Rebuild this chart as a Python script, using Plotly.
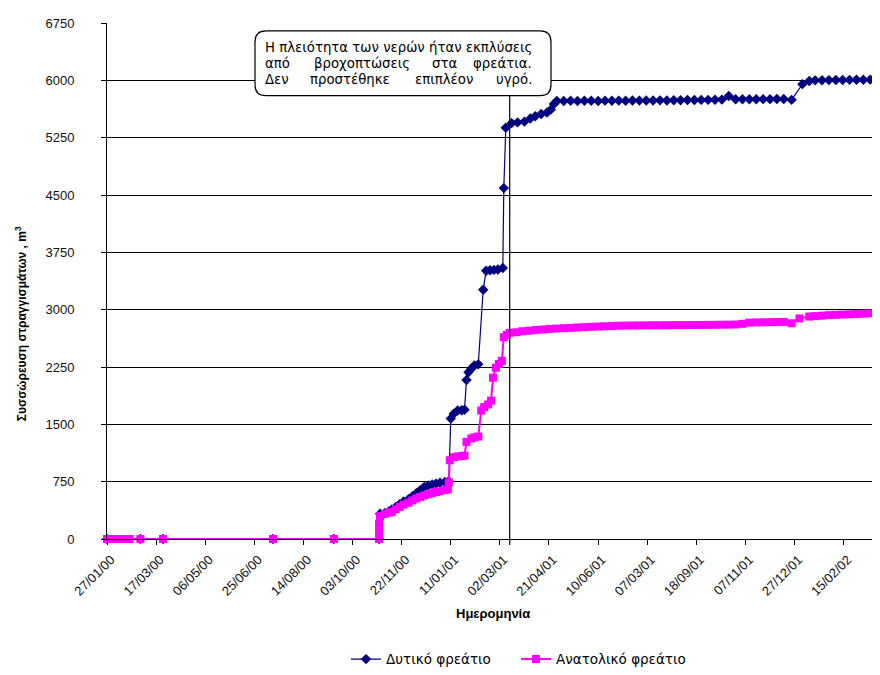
import plotly.graph_objects as go

# ---------------- data ----------------
west_dates = [
    "2000-01-27", "2000-03-01", "2000-03-24", "2000-07-14", "2000-09-14", "2000-10-30",
    "2000-10-31", "2000-11-05", "2000-11-09", "2000-11-12", "2000-11-16", "2000-11-20",
    "2000-11-24", "2000-11-29", "2000-12-03", "2000-12-07", "2000-12-11", "2000-12-15",
    "2000-12-19", "2000-12-23", "2000-12-27", "2000-12-31", "2001-01-05", "2001-01-09",
    "2001-01-11", "2001-01-14", "2001-01-18", "2001-01-22", "2001-01-25", "2001-01-27",
    "2001-01-29", "2001-02-01", "2001-02-04", "2001-02-08", "2001-02-13", "2001-02-16",
    "2001-02-20", "2001-02-24", "2001-02-28", "2001-03-05", "2001-03-06", "2001-03-08",
    "2001-03-14", "2001-03-20", "2001-03-27", "2001-04-02", "2001-04-07", "2001-04-13",
    "2001-04-19", "2001-04-23", "2001-04-26", "2001-04-29", "2001-05-06", "2001-05-13",
    "2001-05-20", "2001-05-27", "2001-06-03", "2001-06-10", "2001-06-17", "2001-06-24",
    "2001-07-01", "2001-07-08", "2001-07-15", "2001-07-22", "2001-07-29", "2001-08-05",
    "2001-08-12", "2001-08-19", "2001-08-26", "2001-09-02", "2001-09-09", "2001-09-16",
    "2001-09-23", "2001-09-30", "2001-10-07", "2001-10-14", "2001-10-21", "2001-10-28",
    "2001-11-04", "2001-11-11", "2001-11-18", "2001-11-25", "2001-12-02", "2001-12-09",
    "2001-12-16", "2001-12-24", "2002-01-04", "2002-01-11", "2002-01-17", "2002-01-24",
    "2002-01-31", "2002-02-07", "2002-02-14", "2002-02-21", "2002-02-28", "2002-03-07",
    "2002-03-14", "2002-03-21",
]
west_values = [
    0, 0, 0, 0, 0, 0,
    330, 340, 360, 385, 420, 455,
    490, 520, 560, 600, 640, 680,
    700, 715, 725, 735, 745, 755,
    1575, 1640, 1680, 1685, 1690, 2080,
    2180, 2230, 2270, 2285, 3260, 3510,
    3515, 3520, 3525, 3545, 4590, 5380,
    5440, 5450, 5460, 5500, 5530, 5560,
    5580, 5620, 5690, 5730, 5730, 5732,
    5730, 5733, 5732, 5730, 5734, 5733,
    5735, 5733, 5736, 5735, 5737, 5736,
    5738, 5737, 5740, 5739, 5742, 5743,
    5744, 5745, 5746, 5748, 5795, 5752,
    5752, 5753, 5753, 5754, 5754, 5755,
    5756, 5745, 5950, 5992, 6000, 6002,
    6003, 6004, 6005, 6006, 6007, 6008,
    6009, 6010,
]

east_dates = [
    "2000-01-27", "2000-02-01", "2000-02-05", "2000-02-10", "2000-02-15", "2000-02-19",
    "2000-03-01", "2000-03-24", "2000-07-14", "2000-09-14", "2000-10-30", "2000-10-30",
    "2000-10-30", "2000-10-31", "2000-11-05", "2000-11-09", "2000-11-12", "2000-11-16",
    "2000-11-20", "2000-11-24", "2000-11-29", "2000-12-03", "2000-12-07", "2000-12-11",
    "2000-12-15", "2000-12-19", "2000-12-23", "2000-12-27", "2000-12-31", "2001-01-05",
    "2001-01-08", "2001-01-09", "2001-01-10", "2001-01-14", "2001-01-18", "2001-01-22",
    "2001-01-25", "2001-01-27", "2001-02-01", "2001-02-04", "2001-02-08", "2001-02-11",
    "2001-02-14", "2001-02-18", "2001-02-21", "2001-02-23", "2001-02-26", "2001-03-01",
    "2001-03-04", "2001-03-06", "2001-03-09", "2001-03-12", "2001-03-19", "2001-03-25",
    "2001-04-01", "2001-04-08", "2001-04-15", "2001-04-22", "2001-04-29", "2001-05-06",
    "2001-05-13", "2001-05-20", "2001-05-27", "2001-06-03", "2001-06-10", "2001-06-17",
    "2001-06-24", "2001-07-01", "2001-07-08", "2001-07-15", "2001-07-22", "2001-07-29",
    "2001-08-05", "2001-08-12", "2001-08-19", "2001-08-26", "2001-09-02", "2001-09-09",
    "2001-09-16", "2001-09-23", "2001-09-30", "2001-10-07", "2001-10-14", "2001-10-21",
    "2001-10-28", "2001-11-04", "2001-11-11", "2001-11-18", "2001-11-25", "2001-12-02",
    "2001-12-09", "2001-12-16", "2001-12-24", "2002-01-01", "2002-01-11", "2002-01-17",
    "2002-01-24", "2002-01-31", "2002-02-07", "2002-02-14", "2002-02-21", "2002-02-28",
    "2002-03-07", "2002-03-14", "2002-03-21",
]
east_values = [
    0, 0, 0, 0, 0, 0,
    0, 0, 0, 0, 0, 100,
    200, 300, 330, 345, 355, 390,
    420, 450, 475, 505, 530, 550,
    570, 585, 600, 615, 625, 640,
    650, 740, 1030, 1070, 1080, 1085,
    1090, 1270, 1315, 1330, 1340, 1680,
    1725, 1760, 1810, 2110, 2240, 2290,
    2330, 2640, 2670, 2697, 2705, 2718,
    2725, 2735, 2740, 2748, 2753, 2758,
    2762, 2767, 2771, 2776, 2779, 2783,
    2786, 2790, 2792, 2793, 2794, 2795,
    2796, 2796, 2797, 2798, 2798, 2799,
    2800, 2800, 2801, 2802, 2803, 2804,
    2806, 2815, 2830, 2833, 2835, 2836,
    2838, 2840, 2822, 2885, 2910, 2915,
    2922, 2928, 2932, 2936, 2940, 2944,
    2948, 2952, 2956,
]

tick_dates = [
    "2000-01-27", "2000-03-17", "2000-05-06", "2000-06-25", "2000-08-14", "2000-10-03",
    "2000-11-22", "2001-01-11", "2001-03-02", "2001-04-21", "2001-06-10", "2001-07-30",
    "2001-09-18", "2001-11-07", "2001-12-27", "2002-02-15",
]
tick_labels = [
    "27/01/00", "17/03/00", "06/05/00", "25/06/00", "14/08/00", "03/10/00",
    "22/11/00", "11/01/01", "02/03/01", "21/04/01", "10/06/01", "07/03/01",
    "18/09/01", "07/11/01", "27/12/01", "15/02/02",
]
y_ticks = [0, 750, 1500, 2250, 3000, 3750, 4500, 5250, 6000, 6750]

x_range = ["2000-01-27", "2002-03-24"]
marker_line_date = "2001-03-12"

note_line1 = "Η πλειότητα των νερών ήταν εκπλύσεις"
note_line2 = ["από", "βροχοπτώσεις", "στα", "φρεάτια."]
note_line3 = ["Δεν", "προστέθηκε", "επιπλέον", "υγρό."]

# ---------------- layout helpers (screen px -> paper) ----------------
PL, PR, PT, PB = 107, 880, 23, 542   # plot area on screen
OFF = 8                               # page body margin


def px(x):
    return (x - PL) / (PR - PL)


def py(y):
    return (PB - y) / (PB - PT)


NUM_FONT = "Liberation Sans, Arial, sans-serif"
TXT_FONT = "DejaVu Sans, Verdana, sans-serif"

fig = go.Figure()
fig.add_trace(go.Scatter(
    x=west_dates, y=west_values, name="Δυτικό φρεάτιο",
    mode="lines+markers", cliponaxis=False,
    line=dict(color="#000080", width=1.2),
    marker=dict(symbol="diamond", size=8, color="#000080"),
))
fig.add_trace(go.Scatter(
    x=east_dates, y=east_values, name="Ανατολικό φρεάτιο",
    mode="lines+markers", cliponaxis=False,
    line=dict(color="#FF00FF", width=2),
    marker=dict(symbol="square", size=8, color="#FF00FF"),
))

# rounded annotation box
bx0, bx1, by0, by1 = px(255), px(551), py(96), py(31)
rx, ry = 11 / (PR - PL), 11 / (PB - PT)
path = (f"M {bx0+rx},{by0} L {bx1-rx},{by0} Q {bx1},{by0} {bx1},{by0+ry} "
        f"L {bx1},{by1-ry} Q {bx1},{by1} {bx1-rx},{by1} L {bx0+rx},{by1} "
        f"Q {bx0},{by1} {bx0},{by1-ry} L {bx0},{by0+ry} Q {bx0},{by0} {bx0+rx},{by0} Z")
fig.add_shape(type="path", path=path, xref="paper", yref="paper",
              fillcolor="white", line=dict(color="black", width=1.2), layer="above")
fig.add_shape(type="line", xref="x", yref="paper",
              x0=marker_line_date, x1=marker_line_date, y0=py(548), y1=by0,
              line=dict(color="black", width=1.2), layer="above")

note_font = dict(family=TXT_FONT, size=13.3, color="black")


def note(text, x, y, anchor):
    fig.add_annotation(xref="paper", yref="paper", x=px(x), y=py(y),
                       xanchor=anchor, yanchor="middle", text=text,
                       showarrow=False, font=note_font)


note(note_line1, 263, 48, "left")
for w, (x, a) in zip(note_line2, [(263, "left"), (312, "left"), (430, "left"), (534, "right")]):
    note(w, x, 64, a)
for w, (x, a) in zip(note_line3, [(263, "left"), (308, "left"), (413, "left"), (534, "right")]):
    note(w, x, 80, a)

# axis titles as annotations for exact placement
fig.add_annotation(xref="paper", yref="paper", x=px(493), y=py(617),
                   xanchor="center", yanchor="middle", showarrow=False,
                   text="<b>Ημερομηνία</b>",
                   font=dict(family=NUM_FONT, size=13, color="black"))
fig.add_annotation(xref="paper", yref="paper", x=px(21), y=py(326),
                   xanchor="center", yanchor="middle", showarrow=False, textangle=-90,
                   text="<b>Συσσώρευση στραγγισμάτων , m<sup>3</sup></b>",
                   font=dict(family=NUM_FONT, size=12, color="black"))

fig.update_layout(
    width=880 - OFF, height=675 - OFF,
    margin=dict(l=PL - OFF, r=0, t=PT - OFF, b=(675 - OFF) - (PB - OFF)),
    paper_bgcolor="white", plot_bgcolor="white",
    font=dict(family=NUM_FONT, color="black"),
    showlegend=True,
    legend=dict(orientation="h", x=px(346), y=py(663), xanchor="left", yanchor="middle",
                font=dict(family=TXT_FONT, size=13.5, color="black"),
                itemwidth=30, tracegroupgap=0,
                entrywidth=125, entrywidthmode="pixels"),
)
fig.update_xaxes(
    type="date", range=x_range, tickvals=tick_dates, ticktext=tick_labels,
    tickangle=-45, tickfont=dict(family=NUM_FONT, size=13, color="#111"),
    showgrid=False, zeroline=False, showline=True, linecolor="black", linewidth=1,
    ticks="outside", ticklen=5, tickcolor="black", ticklabelstandoff=2, ticklabelshift=4,
)
fig.update_yaxes(
    range=[0, 6750], tickvals=y_ticks, ticktext=[str(v) for v in y_ticks],
    tickfont=dict(family=NUM_FONT, size=13, color="#111"),
    showgrid=True, gridcolor="black", gridwidth=1, zeroline=False,
    showline=True, linecolor="black", linewidth=1,
    ticks="outside", ticklen=5, tickcolor="black", ticklabelstandoff=24,
)

fig.write_html("out.html")
